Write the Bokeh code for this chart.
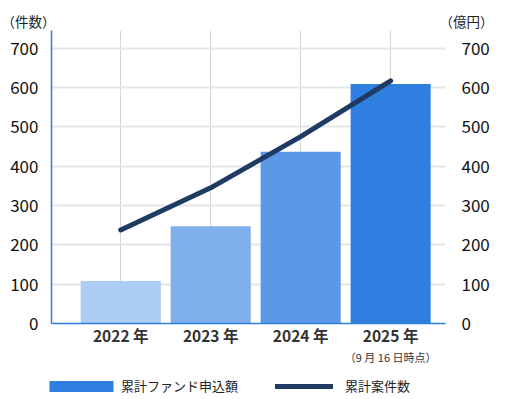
from bokeh.plotting import figure
from bokeh.layouts import column
from bokeh.models import Range1d, LinearAxis, FixedTicker, Legend, LegendItem
from bokeh.core.properties import value
from bokeh.embed import file_html
from bokeh.resources import INLINE

years = ["2022", "2023", "2024", "2025"]
year_suffix = "年"
note_2025 = "（9 月 16 日時点）"
fund_amount = [108, 247, 437, 609]      # 累計ファンド申込額 (億円)
case_count = [238, 345, 475, 617]       # 累計案件数 (件数)
bar_colors = ["#aecdf4", "#80b0ec", "#5b98e6", "#2f7fe0"]
y_ticks = [0, 100, 200, 300, 400, 500, 600, 700]
left_title = "（件数）"
right_title = "（億円）"
legend_bar_label = "累計ファンド申込額"
legend_line_label = "累計案件数"

FONT = "Noto Sans CJK JP"
W = 497
LEFT, RIGHT = 51, 52
TOP_H, MAIN_H, BOT_H = 30, 337, 32
xs = list(range(len(years)))

x_start, x_end = -0.77, 3.61

# ---------- top strip: axis titles ----------
top = figure(width=W, height=TOP_H, output_backend="svg", toolbar_location=None,
             x_range=Range1d(0, W), y_range=Range1d(0, TOP_H),
             x_axis_type=None, y_axis_type=None, min_border=0, frame_align=False)
top.outline_line_color = None
top.grid.visible = False
top.text(x=[1, W - RIGHT - 6], y=[9.5, 9.5], text=[left_title, right_title],
         text_font=value(FONT), text_font_size="13.5px",
         text_align="left", text_baseline="middle", text_color="#222222")

# ---------- main chart ----------
p = figure(width=W, height=MAIN_H, output_backend="svg", toolbar_location=None,
           x_range=Range1d(x_start, x_end), y_range=Range1d(0, 745), frame_align=False,
           min_border_left=LEFT, min_border_right=RIGHT, min_border_top=0, min_border_bottom=42)
p.outline_line_color = None
p.extra_y_ranges = {"right": Range1d(0, 745)}

p.vbar(x=xs, top=fund_amount, width=0.89, fill_color=bar_colors, line_color=None)
p.line(x=xs, y=case_count, line_width=5, line_color="#1f3a63", line_cap="round")

# year axis
p.xaxis.ticker = FixedTicker(ticks=xs)
p.xaxis.major_label_overrides = {i: f"{y} {year_suffix}" for i, y in enumerate(years)}
p.xaxis.axis_line_color = "#2f7fe0"
p.xaxis.axis_line_width = 1.5
p.xaxis.major_tick_line_color = None
p.xaxis.minor_tick_line_color = None
p.xaxis.major_tick_out = 0
p.xaxis.minor_tick_out = 0
p.xaxis.major_label_standoff = 0
p.xaxis.major_label_text_font = FONT
p.xaxis.major_label_text_font_size = "15.5px"
p.xaxis.major_label_text_font_style = "bold"
p.xaxis.major_label_text_color = "#333333"

# note axis (second row under the 2025 label)
note_axis = LinearAxis(ticker=FixedTicker(ticks=[xs[-1]]),
                       major_label_overrides={xs[-1]: note_2025})
note_axis.axis_line_color = None
note_axis.major_tick_line_color = None
note_axis.minor_tick_line_color = None
note_axis.major_tick_out = 0
note_axis.minor_tick_out = 0
note_axis.major_label_standoff = 0
note_axis.major_label_text_font = FONT
note_axis.major_label_text_font_size = "11px"
note_axis.major_label_text_color = "#333333"
p.add_layout(note_axis, "below")

p.yaxis.ticker = FixedTicker(ticks=y_ticks)
p.yaxis.axis_line_color = "#2f7fe0"
p.yaxis.axis_line_width = 1.5
p.yaxis.major_tick_line_color = None
p.yaxis.minor_tick_line_color = None
p.yaxis.major_label_text_font = FONT
p.yaxis.major_label_text_font_size = "17px"
p.yaxis.major_label_text_color = "#111111"
p.yaxis.major_label_standoff = 7

ry = LinearAxis(y_range_name="right", ticker=FixedTicker(ticks=y_ticks))
ry.axis_line_color = None
ry.major_tick_line_color = None
ry.minor_tick_line_color = None
ry.major_label_text_font = FONT
ry.major_label_text_font_size = "17px"
ry.major_label_text_color = "#111111"
ry.major_label_standoff = 10
p.add_layout(ry, "right")

p.xgrid.ticker = FixedTicker(ticks=xs)
p.xgrid.grid_line_color = "#d4d4d4"
p.xgrid.grid_line_width = 1
p.ygrid.grid_line_color = "#e2e5e9"
p.ygrid.grid_line_width = 2

# ---------- bottom strip: legend ----------
bot = figure(width=W, height=BOT_H, output_backend="svg", toolbar_location=None,
             x_range=Range1d(0, 1), y_range=Range1d(0, 1),
             x_axis_type=None, y_axis_type=None, min_border=0, frame_align=False)
bot.outline_line_color = None
bot.grid.visible = False

# legend proxies (zero-size bars / off-range line, invisible in this strip)
r_bar = bot.vbar(x=xs, top=fund_amount, bottom=fund_amount, width=0,
                 fill_color=bar_colors[-1], line_color=None)
r_line = bot.line(x=xs, y=case_count, line_width=5, line_color="#1f3a63", line_cap="round")

leg1 = Legend(items=[LegendItem(label=legend_bar_label, renderers=[r_bar])],
              location=(41, 4), glyph_width=80, glyph_height=14, label_height=14,
              label_standoff=0, padding=0, margin=0, border_line_color=None,
              background_fill_alpha=0, label_text_font=FONT, label_text_font_size="13px",
              label_text_color="#222222")
leg2 = Legend(items=[LegendItem(label=legend_line_label, renderers=[r_line])],
              location=(275, 4), glyph_width=58, glyph_height=14, label_height=14,
              label_standoff=12, padding=0, margin=0, border_line_color=None,
              background_fill_alpha=0, label_text_font=FONT, label_text_font_size="13px",
              label_text_color="#222222")
bot.add_layout(leg1, "center")
bot.add_layout(leg2, "center")

layout = column(top, p, bot, spacing=0)
open("out.html", "w").write(file_html(layout, INLINE))
